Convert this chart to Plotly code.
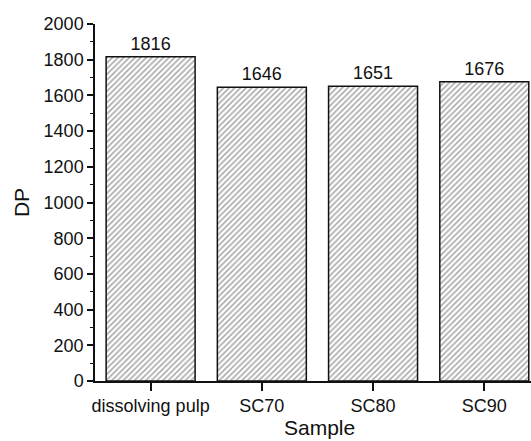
import plotly.graph_objects as go

samples = ["dissolving pulp", "SC70", "SC80", "SC90"]
dp_values = [1816, 1646, 1651, 1676]

fig = go.Figure()
fig.add_trace(go.Bar(
    x=samples,
    y=dp_values,
    width=0.8,
    text=[str(v) for v in dp_values],
    textposition="outside",
    cliponaxis=False,
    textfont=dict(family="Liberation Sans, Arial", size=18, color="#111"),
    marker=dict(
        color="white",
        line=dict(color="#111", width=1.5),
        pattern=dict(shape="/", size=4, solidity=0.4, fgcolor="#555", bgcolor="white"),
    ),
))

fig.update_layout(
    width=531, height=441,
    margin=dict(l=95, r=0, t=24, b=60),
    plot_bgcolor="white", paper_bgcolor="white",
    showlegend=False,
    font=dict(family="Liberation Sans, Arial", size=18, color="#111"),
    xaxis=dict(
        automargin=False,
        range=[-0.5, 3.42],
        showline=True, linecolor="#111", linewidth=1.5,
        ticks="outside", ticklen=8, tickwidth=1.5, tickcolor="#111",
        showgrid=False, zeroline=False,
    ),
    yaxis=dict(
        title=dict(text="DP", font=dict(size=21), standoff=8),
        automargin=False,
        range=[0, 2000],
        tickvals=list(range(0, 2001, 200)),
        showline=True, linecolor="#111", linewidth=1.5,
        ticks="outside", ticklen=6, tickwidth=1.5, tickcolor="#111",
        minor=dict(ticks="outside", ticklen=3, tickwidth=1, tickcolor="#111", dtick=100),
        showgrid=False, zeroline=False,
    ),
    annotations=[dict(
        text="Sample", xref="paper", yref="paper", x=0.515, y=0,
        xanchor="center", yanchor="top", yshift=-33, showarrow=False,
        font=dict(family="Liberation Sans, Arial", size=21, color="#111"),
    )],
)

fig.write_html("out.html")
